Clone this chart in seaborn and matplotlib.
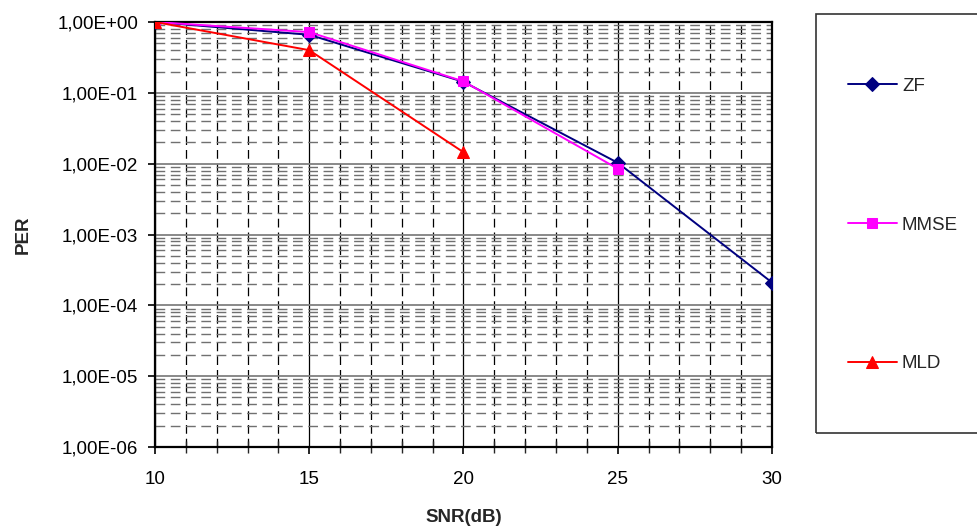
import matplotlib
matplotlib.use("Agg")
import matplotlib.pyplot as plt
import matplotlib.ticker as mticker
from matplotlib.patches import Rectangle
import numpy as np
import pandas as pd
import seaborn as sns

snr = [10, 15, 20, 25, 30]
zf = [1.0, 0.66, 0.143, 0.0103, 2.1e-4]
mmse = [1.0, 0.72, 0.145, 0.0085]
mld = [1.0, 0.40, 0.0145]

series_names = ["ZF", "MMSE", "MLD"]
series_vals = [zf, mmse, mld]
colors = {"ZF": "#000080", "MMSE": "#FF00FF", "MLD": "#FF0000"}
markers = {"ZF": "D", "MMSE": "s", "MLD": "^"}
msizes = {"ZF": 7, "MMSE": 7, "MLD": 8.5}

rows = []
for name, vals in zip(series_names, series_vals):
    for x, v in zip(snr, vals):
        rows.append({"SNR": x, "PER": v, "series": name})
df = pd.DataFrame(rows)

sns.set_theme(style="white")
plt.rcParams["font.family"] = ["Liberation Sans", "DejaVu Sans"]
FS = 13.5

fig = plt.figure(figsize=(9.78, 5.28), dpi=100)
ax = fig.add_axes([155 / 978, 1 - 447 / 528, (772 - 155) / 978, (447 - 22) / 528])

for name in series_names:
    sub = df[df["series"] == name]
    sns.lineplot(data=sub, x="SNR", y="PER", ax=ax, color=colors[name],
                 marker=markers[name], markersize=msizes[name],
                 markeredgecolor=colors[name], linewidth=1.4,
                 label=name, zorder=5, legend=False)

ax.set_yscale("log")
ax.set_xlim(10, 30)
ax.set_ylim(1e-6, 1)

ax.xaxis.set_major_locator(mticker.MultipleLocator(5))
ax.xaxis.set_minor_locator(mticker.MultipleLocator(1))
ax.yaxis.set_major_locator(mticker.LogLocator(base=10, numticks=10))
ax.yaxis.set_minor_locator(mticker.LogLocator(base=10, subs=np.arange(2, 10), numticks=20))
ax.yaxis.set_minor_formatter(mticker.NullFormatter())

def fmt(v, pos):
    e = int(round(np.log10(v)))
    sign = "+" if e >= 0 else "-"
    return f"1,00E{sign}{abs(e):02d}"

ax.yaxis.set_major_formatter(mticker.FuncFormatter(fmt))

ax.tick_params(axis="both", which="major", labelsize=FS, colors="black")
ax.tick_params(axis="y", which="major", direction="out", length=5, width=1.2, pad=7, left=True)
ax.tick_params(axis="y", which="minor", left=False)
ax.tick_params(axis="x", which="major", direction="out", length=5, width=1.2, pad=12, bottom=True)
ax.tick_params(axis="x", which="minor", direction="inout", length=8, width=1.0, bottom=True)

# grid
ax.yaxis.grid(True, which="major", color="#808080", linewidth=1.3, linestyle="-")
ax.yaxis.grid(True, which="minor", color="#707070", linewidth=1.0, linestyle=(0, (7, 4)))
ax.xaxis.grid(True, which="major", color="#000000", linewidth=0.9, linestyle="-")
ax.xaxis.grid(True, which="minor", color="#000000", linewidth=0.9, linestyle=(0, (7, 4)))
ax.set_axisbelow(True)

for sp in ax.spines.values():
    sp.set_visible(True)
    sp.set_color("black")
    sp.set_linewidth(1.6)

ax.set_xlabel("SNR(dB)", fontsize=FS, fontweight="bold")
ax.set_ylabel("PER", fontsize=FS, fontweight="bold")
ax.xaxis.set_label_coords(0.5, -0.147)
ax.yaxis.set_label_coords(-0.2, 0.5)

# legend
h, l = ax.get_legend_handles_labels()
leg = fig.legend(h, l, loc="center left", bbox_to_anchor=(848 / 978, 1 - 225 / 528),
                 frameon=False, fontsize=FS, handlelength=2.61, handletextpad=0.27,
                 labelspacing=6.48, borderpad=0, borderaxespad=0)
fig.patches.append(Rectangle((816 / 978, 1 - 433 / 528), 0.3, (433 - 14) / 528,
                             transform=fig.transFigure, facecolor="none",
                             edgecolor="#333333", linewidth=1.2))

fig.savefig("out.png", dpi=100)
